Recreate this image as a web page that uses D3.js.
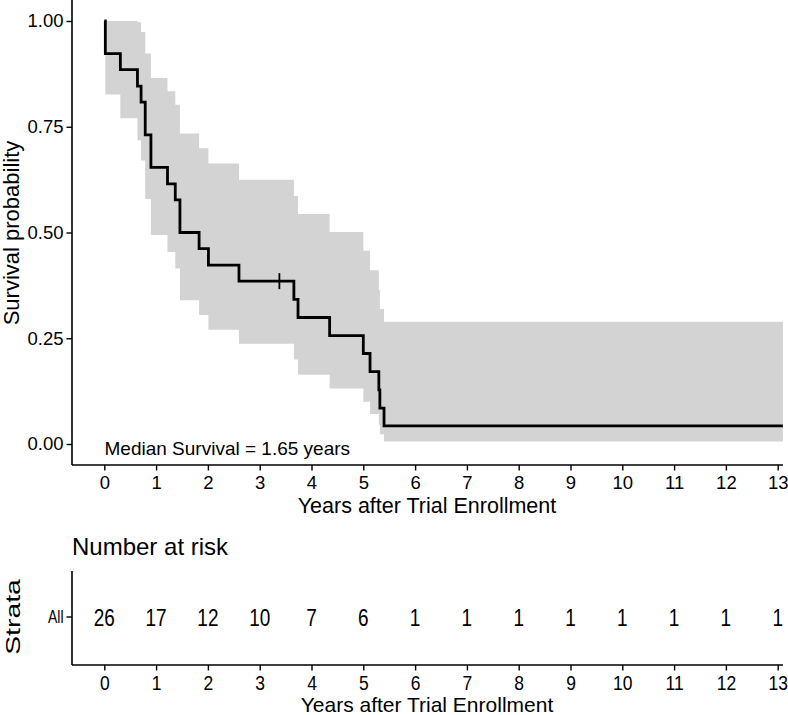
<!DOCTYPE html>
<html>
<head>
<meta charset="utf-8">
<script src="https://cdn.jsdelivr.net/npm/d3@7"></script>
<style>
  html, body { margin: 0; padding: 0; background: #fff; }
  svg text { font-family: "Liberation Sans", Arial, Helvetica, sans-serif; fill: #000; }
</style>
</head>
<body>
<svg id="chart" width="788" height="715"></svg>
<script>
// ---- data ----
const stepTimes = [0, 0.02, 0.31, 0.64, 0.71, 0.79, 0.90, 1.22, 1.37, 1.46, 1.83, 2.01, 2.60, 3.66, 3.74, 4.35, 5.00, 5.13, 5.30, 5.32, 5.40];
const survival  = [1, 0.923, 0.885, 0.846, 0.808, 0.731, 0.654, 0.615, 0.577, 0.500, 0.462, 0.423, 0.385, 0.342, 0.299, 0.256, 0.214, 0.171, 0.128, 0.085, 0.043];
const upperCI   = [1, 1, 1, 0.997, 0.974, 0.923, 0.865, 0.834, 0.802, 0.734, 0.699, 0.663, 0.625, 0.586, 0.544, 0.501, 0.457, 0.411, 0.364, 0.319, 0.289];
const lowerCI   = [1, 0.826, 0.770, 0.718, 0.670, 0.579, 0.494, 0.454, 0.415, 0.340, 0.305, 0.270, 0.237, 0.200, 0.164, 0.131, 0.100, 0.071, 0.045, 0.023, 0.006];
const lastTime = 13.1;
const censorTimes = [3.38];
const censorSurv  = [0.385];
const xTicks = [0,1,2,3,4,5,6,7,8,9,10,11,12,13];
const yTicks = [0, 0.25, 0.5, 0.75, 1];
const riskTimes = [0,1,2,3,4,5,6,7,8,9,10,11,12,13];
const riskCounts = [26,17,12,10,7,6,1,1,1,1,1,1,1,1];
const strataLabel = "All";
const medianText = "Median Survival = 1.65 years";

// ---- layout ----
const svg = d3.select("#chart");
const FONT = '"Liberation Sans", Arial, Helvetica, sans-serif';
const panel = {left: 72, right: 783, top: 0, bottom: 465};
const x = d3.scaleLinear().domain([0, 13]).range([104.3, 777.7]);
const y = d3.scaleLinear().domain([0, 1]).range([444, 21]);

const rows = stepTimes.map((t, i) => ({t, s: survival[i], u: upperCI[i], l: lowerCI[i]}));
rows.push({t: lastTime, s: survival[survival.length-1], u: upperCI[upperCI.length-1], l: lowerCI[lowerCI.length-1]});

// confidence band
svg.append("path")
  .datum(rows)
  .attr("fill", "#d3d3d3")
  .attr("d", d3.area().curve(d3.curveStepAfter).x(d => x(d.t)).y0(d => y(d.l)).y1(d => y(d.u)));

// survival line
svg.append("path")
  .datum(rows)
  .attr("fill", "none")
  .attr("stroke", "#000")
  .attr("stroke-width", 2.8)
  .attr("d", d3.line().curve(d3.curveStepAfter).x(d => x(d.t)).y(d => y(d.s)));

// censor marks
censorTimes.forEach((t, i) => {
  svg.append("line")
    .attr("x1", x(t)).attr("x2", x(t))
    .attr("y1", y(censorSurv[i]) - 8).attr("y2", y(censorSurv[i]) + 8)
    .attr("stroke", "#000").attr("stroke-width", 1.8);
});

// axes lines
svg.append("line").attr("x1", panel.left).attr("x2", panel.left).attr("y1", panel.top).attr("y2", panel.bottom)
  .attr("stroke", "#000").attr("stroke-width", 1.6);
svg.append("line").attr("x1", panel.left).attr("x2", panel.right).attr("y1", panel.bottom).attr("y2", panel.bottom)
  .attr("stroke", "#000").attr("stroke-width", 1.6);

const yAxis = svg.append("g").attr("transform", `translate(${panel.left},0)`)
  .call(d3.axisLeft(y).tickValues(yTicks).tickFormat(d3.format(".2f")).tickSize(5.5).tickPadding(3));
const xAxis = svg.append("g").attr("transform", `translate(0,${panel.bottom})`)
  .call(d3.axisBottom(x).tickValues(xTicks).tickFormat(d3.format("d")).tickSize(5.5).tickPadding(5));
[yAxis, xAxis].forEach(g => {
  g.select(".domain").remove();
  g.selectAll(".tick line").attr("stroke", "#000").attr("stroke-width", 1.4);
  g.selectAll(".tick text").attr("font-size", 18.5).attr("fill", "#000").style("font-family", FONT);
});

svg.append("text").attr("transform", "translate(19,233) rotate(-90)")
  .attr("text-anchor", "middle").attr("font-size", 22).text("Survival probability");
svg.append("text").attr("x", 427).attr("y", 513)
  .attr("text-anchor", "middle").attr("font-size", 21.5).text("Years after Trial Enrollment");
svg.append("text").attr("x", 104.5).attr("y", 455)
  .attr("font-size", 19).text(medianText);

// ---- risk table ----
const table = {left: 72, right: 783, top: 571, bottom: 665, rowY: 617};
const stretch = 1.3;
svg.append("text").attr("x", 72).attr("y", 555).attr("font-size", 24).text("Number at risk");
svg.append("line").attr("x1", table.left).attr("x2", table.left).attr("y1", table.top).attr("y2", table.bottom)
  .attr("stroke", "#000").attr("stroke-width", 1.6);
svg.append("line").attr("x1", table.left).attr("x2", table.right).attr("y1", table.bottom).attr("y2", table.bottom)
  .attr("stroke", "#000").attr("stroke-width", 1.6);
svg.append("line").attr("x1", table.left - 5.5).attr("x2", table.left).attr("y1", table.rowY).attr("y2", table.rowY)
  .attr("stroke", "#000").attr("stroke-width", 1.4);
svg.append("text").attr("transform", `translate(${table.left - 8.5},${table.rowY}) scale(1,${stretch})`)
  .attr("dy", "0.35em").attr("text-anchor", "end").attr("font-size", 14).text(strataLabel);

svg.append("g").selectAll("text").data(riskTimes).join("text")
  .attr("transform", d => `translate(${x(d)},${table.rowY}) scale(1,${stretch})`)
  .attr("dy", "0.36em")
  .attr("text-anchor", "middle").attr("font-size", 19)
  .text((d, i) => riskCounts[i]);

const tAxis = svg.append("g").attr("transform", `translate(0,${table.bottom})`)
  .call(d3.axisBottom(x).tickValues(xTicks).tickFormat(d3.format("d")).tickSize(5.5).tickPadding(5));
tAxis.select(".domain").remove();
tAxis.selectAll(".tick line").attr("stroke", "#000").attr("stroke-width", 1.4);
tAxis.selectAll(".tick text").attr("font-size", 17.5).attr("fill", "#000").style("font-family", FONT)
  .attr("y", 0).attr("dy", null).attr("transform", `translate(0,25) scale(1,1.12)`);

svg.append("text").attr("transform", `translate(20,${table.rowY}) rotate(-90) scale(1.35,1)`)
  .attr("text-anchor", "middle").attr("font-size", 21).text("Strata");
svg.append("text").attr("x", 427).attr("y", 712)
  .attr("text-anchor", "middle").attr("font-size", 21).text("Years after Trial Enrollment");
</script>
</body>
</html>
